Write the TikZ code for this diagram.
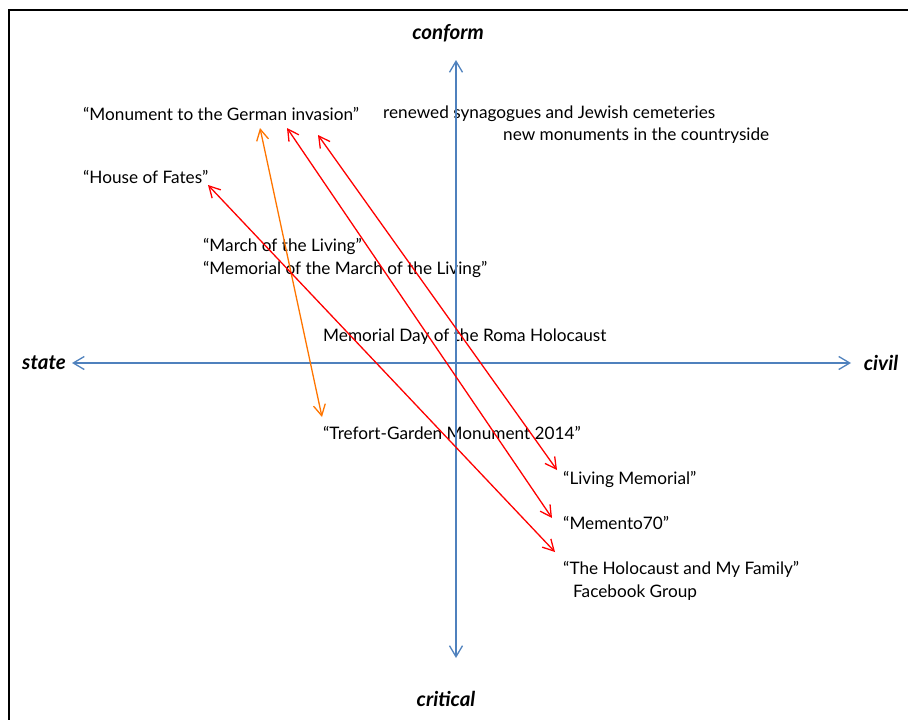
\documentclass[tikz,border=0pt]{standalone}
\usepackage{fontspec}
\setmainfont{Lato}
\usetikzlibrary{arrows.meta}
\definecolor{axisblue}{RGB}{79,129,189}
\definecolor{linkred}{RGB}{255,0,0}
\definecolor{linkorange}{RGB}{255,117,0}

\begin{document}
\begin{tikzpicture}[x=1pt,y=-1pt,font=\fontsize{17.2}{20}\selectfont,
  axis/.style={draw=axisblue,line width=1.3pt,{Straight Barb[length=11pt,width=13pt]}-{Straight Barb[length=11pt,width=13pt]}},
  link/.style={line width=1.3pt,{Straight Barb[length=11pt,width=12pt]}-{Straight Barb[length=11pt,width=12pt]}},
  item/.style={anchor=west,inner sep=0pt},
  pole/.style={font=\fontsize{20.5}{24}\selectfont\bfseries\itshape,inner sep=0pt}]
  \useasboundingbox (0,0) rectangle (908,720);
  \draw[line width=1.3pt] (9,720) -- (9,10) -- (908,10);
  % poles
  \node[pole] (conform) at (448,33) {conform};
  \node[pole] (critical) at (446,699) {critical};
  \node[pole] (state) at (44,363) {state};
  \node[pole] (civil) at (881,363) {civil};
  % items
  \node[item] (monument) at (83,114) {“Monument to the German invasion”};
  \node[item] (synag) at (383,114) {renewed synagogues and Jewish cemeteries};
  \node[item] (countryside) at (503,136) {new monuments in the countryside};
  \node[item] (fates) at (83,177) {“House of Fates”};
  \node[item] (march) at (203,246) {“March of the Living”};
  \node[item] (marchmem) at (203,269) {“Memorial of the March of the Living”};
  \node[item] (roma) at (323,337) {Memorial Day of the Roma Holocaust};
  \node[item] (trefort) at (323,433) {“Trefort-Garden Monument 2014”};
  \node[item] (living) at (563,479) {“Living Memorial”};
  \node[item] (memento) at (563,523) {“Memento70”};
  \node[item] (family) at (563,569) {“The Holocaust and My Family”};
  \node[item] (fbgroup) at (573,593) {Facebook Group};
  % axis ends and arrow tips
  \coordinate (top) at (456,60);
  \coordinate (bottom) at (456,658);
  \coordinate (left) at (72,363);
  \coordinate (right) at (851,363);
  \coordinate (monA) at (260,128);
  \coordinate (monB) at (287,128);
  \coordinate (monC) at (318,135);
  \coordinate (fatesA) at (208,185);
  \coordinate (trefortA) at (322,417);
  \coordinate (livingA) at (557,470);
  \coordinate (mementoA) at (552,518);
  \coordinate (familyA) at (555,552);
  \draw[axis] (top) -- (bottom);
  \draw[axis] (left) -- (right);
  \draw[link,linkorange] (monA) -- (trefortA);
  \draw[link,linkred] (monB) -- (mementoA);
  \draw[link,linkred] (monC) -- (livingA);
  \draw[link,linkred] (fatesA) -- (familyA);
\end{tikzpicture}
\end{document}
